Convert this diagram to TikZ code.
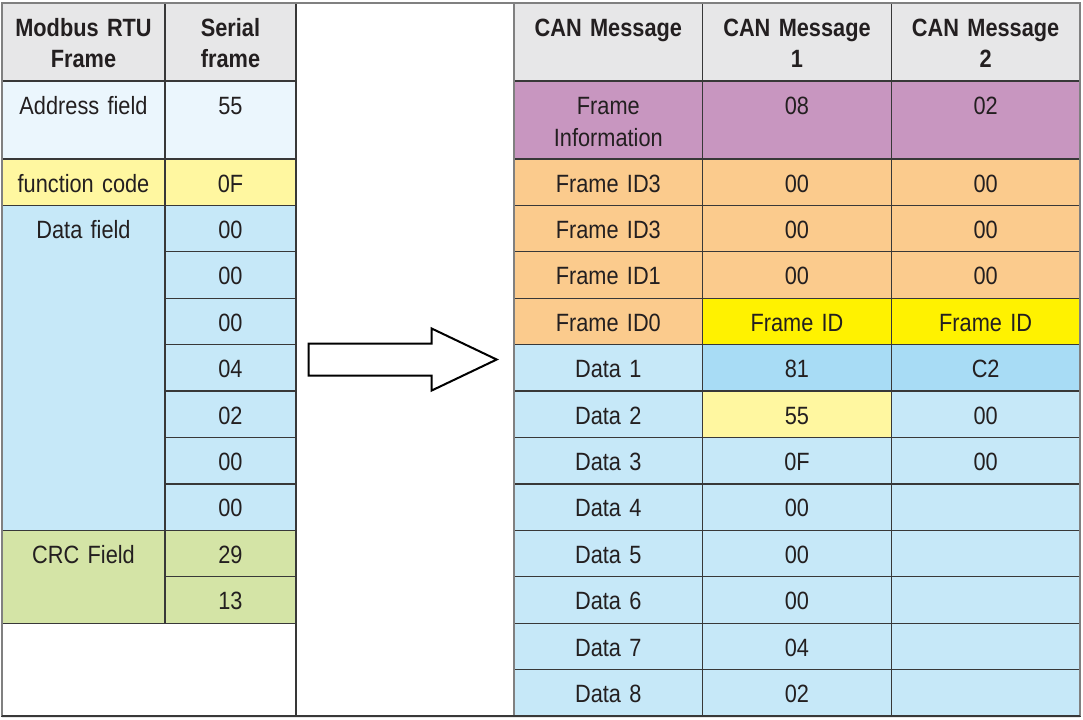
\documentclass[tikz,border=0pt]{standalone}
\usepackage{fontspec}
\setmainfont{Liberation Sans}[FakeStretch=0.87]
\usepackage{tikz}
\usetikzlibrary{positioning,shapes.arrows}
\definecolor{ink}{HTML}{231F20}
\definecolor{gridDark}{HTML}{383838}
\definecolor{frameGray}{HTML}{808080}
\definecolor{headGray}{HTML}{E7E7E8}
\definecolor{addrBlue}{HTML}{EBF6FD}
\definecolor{paleYellow}{HTML}{FFF7A0}
\definecolor{dataBlue}{HTML}{C6E8F8}
\definecolor{deepBlue}{HTML}{A8DCF5}
\definecolor{crcGreen}{HTML}{D4E4A6}
\definecolor{infoMauve}{HTML}{C896C0}
\definecolor{idOrange}{HTML}{FBCB8D}
\definecolor{idYellow}{HTML}{FFF200}

\begin{document}
\begin{tikzpicture}[
    every node/.style={font=\fontsize{12.5}{16}\selectfont, text=ink},
    cell/.style={draw=gridDark, line width=0.65pt, inner sep=0pt, outer sep=0pt, align=center, text height=16.5pt, text depth=6.71pt},
    nameCol/.style={cell, text width=81.5pt},
    valCol/.style={cell, text width=65.5pt},
    canCol/.style={cell, text width=94.33pt},
    twoRows/.style={text depth=29.92pt},
    tall/.style={text depth=22.5pt},
    hdr/.style={tall, fill=headGray, font=\bfseries\fontsize{12.5}{15.5}\selectfont},
  ]
  \useasboundingbox (0,0) rectangle (541.5pt,-359.5pt);

  \node[nameCol, hdr, anchor=north west] (hFrame) at (1pt,-1.5pt) {Modbus RTU\\Frame};
  \node[nameCol, tall, fill=addrBlue, below=0pt of hFrame] (addr) {Address field};
  \node[nameCol, fill=paleYellow, below=0pt of addr] (func) {function code};
  \node[nameCol, fill=dataBlue, text depth=145.97pt, below=0pt of func] (dataF) {Data field};
  \node[nameCol, twoRows, fill=crcGreen, below=0pt of dataF] (crc) {CRC Field};
  \node[cell, twoRows, text width=147pt, fill=white, anchor=north west] (blank) at (crc.south west) {};

  \node[valCol, hdr, right=0pt of hFrame] (hSerial) {Serial\\frame};
  \node[valCol, tall, fill=addrBlue, below=0pt of hSerial] (addrVal) {55};
  \node[valCol, fill=paleYellow, below=0pt of addrVal] (funcVal) {0F};
  \node[valCol, fill=dataBlue, below=0pt of funcVal] (dA) {00};
  \node[valCol, fill=dataBlue, below=0pt of dA] (dB) {00};
  \node[valCol, fill=dataBlue, below=0pt of dB] (dC) {00};
  \node[valCol, fill=dataBlue, below=0pt of dC] (dD) {04};
  \node[valCol, fill=dataBlue, below=0pt of dD] (dE) {02};
  \node[valCol, fill=dataBlue, below=0pt of dE] (dF) {00};
  \node[valCol, fill=dataBlue, below=0pt of dF] (dG) {00};
  \node[valCol, fill=crcGreen, below=0pt of dG] (crcLo) {29};
  \node[valCol, fill=crcGreen, below=0pt of crcLo] (crcHi) {13};

  \node[cell, text width=109pt, text depth=340.02pt, fill=white, anchor=north west] (gap) at (hSerial.north east) {};

  \node[canCol, hdr, anchor=north west] (hCan) at (gap.north east) {CAN Message\\\mbox{}};
  \node[canCol, tall, fill=infoMauve, below=0pt of hCan] (info) {Frame\\Information};
  \node[canCol, fill=idOrange, below=0pt of info] (idA) {Frame ID3};
  \node[canCol, fill=idOrange, below=0pt of idA] (idB) {Frame ID3};
  \node[canCol, fill=idOrange, below=0pt of idB] (idC) {Frame ID1};
  \node[canCol, fill=idOrange, below=0pt of idC] (idD) {Frame ID0};
  \node[canCol, fill=dataBlue, below=0pt of idD] (nA) {Data 1};
  \node[canCol, fill=dataBlue, below=0pt of nA] (nB) {Data 2};
  \node[canCol, fill=dataBlue, below=0pt of nB] (nC) {Data 3};
  \node[canCol, fill=dataBlue, below=0pt of nC] (nD) {Data 4};
  \node[canCol, fill=dataBlue, below=0pt of nD] (nE) {Data 5};
  \node[canCol, fill=dataBlue, below=0pt of nE] (nF) {Data 6};
  \node[canCol, fill=dataBlue, below=0pt of nF] (nG) {Data 7};
  \node[canCol, fill=dataBlue, below=0pt of nG] (nH) {Data 8};

  \node[canCol, hdr, right=0pt of hCan] (hMsgA) {CAN Message\\1};
  \node[canCol, tall, fill=infoMauve, below=0pt of hMsgA] (infoA) {08};
  \node[canCol, fill=idOrange, below=0pt of infoA] (idAa) {00};
  \node[canCol, fill=idOrange, below=0pt of idAa] (idBa) {00};
  \node[canCol, fill=idOrange, below=0pt of idBa] (idCa) {00};
  \node[canCol, fill=idYellow, below=0pt of idCa] (idDa) {Frame ID};
  \node[canCol, fill=deepBlue, below=0pt of idDa] (nAa) {81};
  \node[canCol, fill=paleYellow, below=0pt of nAa] (nBa) {55};
  \node[canCol, fill=dataBlue, below=0pt of nBa] (nCa) {0F};
  \node[canCol, fill=dataBlue, below=0pt of nCa] (nDa) {00};
  \node[canCol, fill=dataBlue, below=0pt of nDa] (nEa) {00};
  \node[canCol, fill=dataBlue, below=0pt of nEa] (nFa) {00};
  \node[canCol, fill=dataBlue, below=0pt of nFa] (nGa) {04};
  \node[canCol, fill=dataBlue, below=0pt of nGa] (nHa) {02};

  \node[canCol, hdr, right=0pt of hMsgA] (hMsgB) {CAN Message\\2};
  \node[canCol, tall, fill=infoMauve, below=0pt of hMsgB] (infoB) {02};
  \node[canCol, fill=idOrange, below=0pt of infoB] (idAb) {00};
  \node[canCol, fill=idOrange, below=0pt of idAb] (idBb) {00};
  \node[canCol, fill=idOrange, below=0pt of idBb] (idCb) {00};
  \node[canCol, fill=idYellow, below=0pt of idCb] (idDb) {Frame ID};
  \node[canCol, fill=deepBlue, below=0pt of idDb] (nAb) {C2};
  \node[canCol, fill=dataBlue, below=0pt of nAb] (nBb) {00};
  \node[canCol, fill=dataBlue, below=0pt of nBb] (nCb) {00};
  \node[canCol, fill=dataBlue, below=0pt of nCb] (nDb) {};
  \node[canCol, fill=dataBlue, below=0pt of nDb] (nEb) {};
  \node[canCol, fill=dataBlue, below=0pt of nEb] (nFb) {};
  \node[canCol, fill=dataBlue, below=0pt of nFb] (nGb) {};
  \node[canCol, fill=dataBlue, below=0pt of nGb] (nHb) {};

  \draw[frameGray, line width=1pt] (hFrame.south west) |- (hMsgB.north east) -- (nHb.south east);
  \draw[frameGray, line width=1pt] (gap.north east) -- (gap.south east);
  \draw[frameGray, line width=1pt] (hFrame.south west) -- (blank.south west);
  \draw[gridDark, line width=1pt] (blank.south west) -- (nHb.south east);

  \node[single arrow, draw=black, line width=1pt, fill=white, inner sep=0pt, text height=7.5pt, text depth=7.5pt,
        minimum height=94pt, single arrow head extend=7.5pt, single arrow tip angle=51, single arrow head indent=0pt,
        anchor=tip] (convert) at ([xshift=-7.5pt]gap.east) {};
\end{tikzpicture}
\end{document}
